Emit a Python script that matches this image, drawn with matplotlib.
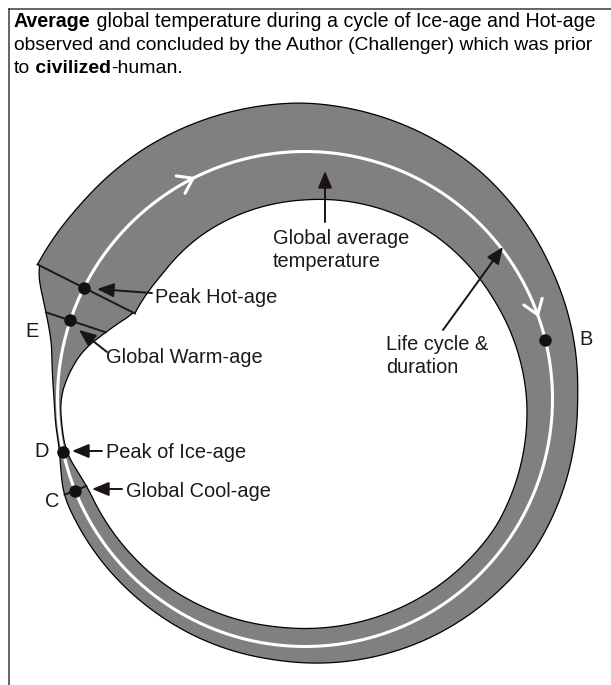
import numpy as np
import matplotlib.pyplot as plt

plt.rcParams['font.family'] = ['Liberation Sans', 'DejaVu Sans']

# band edges: distance (px) of the outer / inner edge from the white life-cycle line,
# at clockwise angles (deg) measured from the Peak Hot-age line
band_theta = [0, 14, 30, 63, 100, 126, 153, 187, 215, 250, 280, 311.5, 321, 333, 338, 345.5, 351.5, 360]
outer_offset = [52, 49.5, 50, 48.5, 40, 31, 25, 27, 22, 15, 13, 12, 3, 3, 5.5, 11, 24, 52]
inner_offset = [-57, -58, -54, -48.5, -39, -34, -26, -18, -18, -18, -15, -13, -3, -3, -8, -20, -37, -57]

# points on the cycle (clockwise angle from the hot-age line)
point_names = ['Peak Hot-age', 'Global Warm-age', 'Peak of Ice-age', 'Global Cool-age', 'B']
point_theta = [0, 351.8, 320.9, 311.5, 139.5]
cross_theta = [0, 351.8, 311.5]      # short lines across the band
chevron_theta = [36.4, 133.4]        # direction arrows on the white line

letters = ['B', 'E', 'D', 'C']

title_lines = [
    ("Average", " global temperature during a cycle of Ice-age and Hot-age"),
    ("", "observed and concluded by the Author (Challenger) which was prior"),
]

# geometry of the picture (pixel units, y down)
cx, cy = 305, 399
r_mid = 247.5
hot_phi = 153.3


def to_xy(theta, r):
    phi = np.radians(hot_phi - np.asarray(theta))
    return cx + r * np.cos(phi), cy - r * np.sin(phi)


def smooth(v, n=31):
    pad = np.pad(v, n // 2, mode='edge')
    return np.convolve(pad, np.ones(n) / n, mode='valid')


th = np.arange(0, 360.01, 0.2)
out_r = r_mid + smooth(np.interp(th, band_theta, outer_offset))
in_r = r_mid + smooth(np.interp(th, band_theta, inner_offset))

fig = plt.figure(figsize=(6.11, 6.85), dpi=100)
ax = fig.add_axes([0, 0, 1, 1])
ax.set_xlim(0, 611)
ax.set_ylim(685, 0)
ax.axis('off')

# frame
ax.plot([8.5, 611], [8.5, 8.5], color='#3a3a3a', lw=1.1)
ax.plot([9, 9], [8.5, 685], color='#3a3a3a', lw=1.1)

# grey band
ox, oy = to_xy(th, out_r)
ix, iy = to_xy(th, in_r)
ax.fill(np.concatenate([ox, ix[::-1]]), np.concatenate([oy, iy[::-1]]),
        color='#808080', lw=0)

# white life-cycle line
wx, wy = to_xy(th, np.full_like(th, r_mid))
ax.plot(wx, wy, color='white', lw=2.2, solid_capstyle='butt')

ax.plot(ox, oy, color='black', lw=0.9)
ax.plot(ix, iy, color='black', lw=0.9)

for t in cross_theta:
    k = int(round(t / 0.2))
    ax.plot([ox[k], ix[k]], [oy[k], iy[k]], color='#1a1a1a', lw=1.4)

# chevrons
for t in chevron_theta:
    phi = np.radians(hot_phi - t)
    tx, ty = to_xy(t, r_mid)
    d = np.array([np.sin(phi), np.cos(phi)])
    for s in (1, -1):
        a = np.radians(35 * s)
        rot = np.array([[np.cos(a), -np.sin(a)], [np.sin(a), np.cos(a)]])
        w = rot @ (-d) * 17
        ax.plot([tx, tx + w[0]], [ty, ty + w[1]], color='white', lw=2.2,
                solid_capstyle='round')

# dots
px, py = to_xy(point_theta, r_mid)
ax.plot(px, py, 'o', color='#111111', ms=8, ls='none')

# annotation arrows (tail -> tip)
arrows = [((152, 293), (97, 289)), ((107, 352), (79, 330)), ((102, 451), (72, 451)),
          ((122, 489), (92, 489)), ((325, 222), (325, 171)), ((443, 330), (503, 247))]
for tail, tip in arrows:
    ax.annotate('', xy=tip, xytext=tail,
                arrowprops=dict(arrowstyle='-|>,head_length=0.6,head_width=0.25',
                                mutation_scale=17, color='#1a1414', lw=1.4,
                                shrinkA=0, shrinkB=0))

fs = 14.4
lab = dict(fontsize=fs, va='baseline', ha='left', color='#1a1a1a')
ax.text(155, 303, point_names[0], **lab)
ax.text(106, 363, point_names[1], **lab)
ax.text(106, 458, point_names[2], **lab)
ax.text(126, 497, point_names[3], **lab)
ax.text(273, 244, 'Global average', **lab)
ax.text(273, 267, 'temperature', **lab)
ax.text(386, 350, 'Life cycle &', **lab)
ax.text(386, 373, 'duration', **lab)
for ch, (x, y) in zip(letters, [(579, 345), (25, 337), (34, 457), (45, 507)]):
    ax.text(x, y, ch, **lab)

# title with bold words (first two lines sized to fill the width, like justified text)
y0 = 27
for (bold, rest), tfs in zip(title_lines, [14.15, 13.86]):
    if bold:
        t1 = ax.text(14, y0, bold, fontsize=tfs, fontweight='bold', va='baseline')
        ax.annotate(rest, xy=(1, 0), xycoords=t1, va='bottom', fontsize=tfs)
    else:
        ax.text(14, y0, rest, fontsize=tfs, va='baseline')
    y0 += 23
tfs = 14
t1 = ax.text(14, y0, 'to', fontsize=tfs, va='baseline')
t2 = ax.annotate(' civilized', xy=(1, 0), xycoords=t1, va='bottom', fontsize=tfs,
                 fontweight='bold')
ax.annotate('-human.', xy=(1, 0), xycoords=t2, va='bottom', fontsize=tfs)

fig.savefig('out.png', dpi=100)
